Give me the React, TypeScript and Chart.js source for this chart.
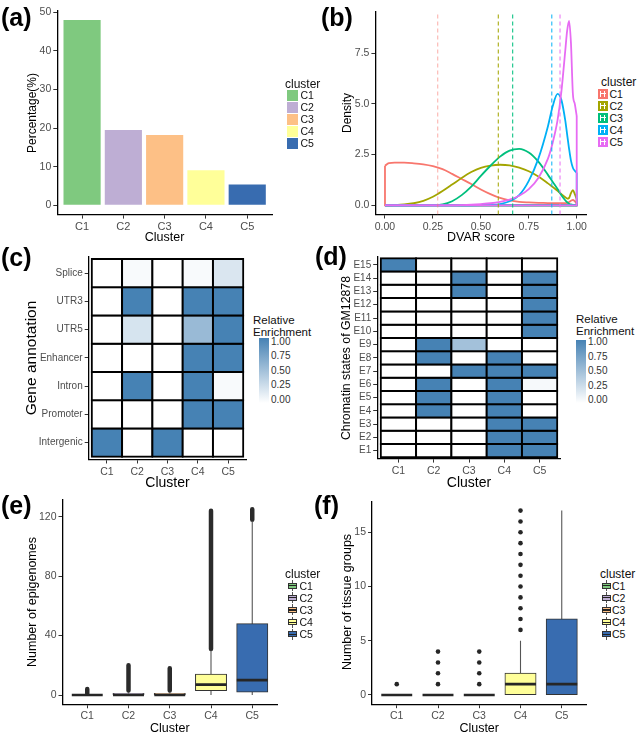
import React, { useEffect, useRef } from 'react';
import { Chart, registerables } from 'chart.js';

Chart.register(...registerables);

const FONT = '"Liberation Sans", Arial, Helvetica, sans-serif';
const TICK_COLOR = '#4D4D4D';

// ---------------- shared ----------------
const clusters = ['C1', 'C2', 'C3', 'C4', 'C5'];
const clusterPositions = [1, 2, 3, 4, 5];
const accentColors = ['#7FC97F', '#BEAED4', '#FDC086', '#FFFF99', '#386CB0'];
const hueColors = ['#F8766D', '#A3A500', '#00BF7D', '#00B0F6', '#E76BF3'];
const vlineColors = ['rgba(248,118,109,0.55)', 'rgba(163,165,0,0.95)', 'rgba(0,191,125,0.95)', 'rgba(0,176,246,0.9)', 'rgba(231,107,243,0.9)'];

// ---------------- (a) ----------------
const percentage = [48.0, 19.5, 18.2, 9.1, 5.4];
const percentageTicks = [0, 10, 20, 30, 40, 50];
const percentageTickLabels = ['0', '10', '20', '30', '40', '50'];

// ---------------- (b) ----------------
const dvarGrid = [0, 0.02, 0.05, 0.1, 0.15, 0.2, 0.25, 0.3, 0.35, 0.4, 0.45, 0.5, 0.55, 0.6, 0.65, 0.7, 0.75, 0.8, 0.85, 0.875, 0.9, 0.92, 0.94, 0.95, 0.96, 0.97, 0.98, 0.99, 1.0];
const densityC1 = [1.95, 2.08, 2.1, 2.1, 2.07, 2.02, 1.93, 1.78, 1.55, 1.3, 1.05, 0.78, 0.55, 0.36, 0.24, 0.17, 0.14, 0.12, 0.11, 0.1, 0.1, 0.1, 0.1, 0.12, 0.16, 0.22, 0.26, 0.2, 0.1];
const densityC2 = [0, 0, 0.01, 0.04, 0.1, 0.22, 0.42, 0.7, 1.02, 1.35, 1.64, 1.85, 1.96, 2.0, 1.97, 1.86, 1.68, 1.42, 1.08, 0.9, 0.72, 0.55, 0.4, 0.33, 0.36, 0.6, 0.75, 0.55, 0.3];
const densityC3 = [0, 0, 0, 0, 0, 0, 0.005, 0.04, 0.2, 0.5, 0.92, 1.45, 1.95, 2.4, 2.7, 2.78, 2.6, 2.15, 1.5, 1.15, 0.8, 0.5, 0.25, 0.15, 0.08, 0.04, 0.02, 0.01, 0];
const densityC4 = [0, 0, 0, 0, 0, 0, 0, 0, 0, 0, 0, 0.005, 0.02, 0.06, 0.2, 0.5, 1.2, 2.3, 3.9, 4.9, 5.5, 5.2, 4.2, 3.5, 2.8, 2.2, 1.85, 1.7, 1.6];
const densityC5 = [0, 0, 0, 0, 0, 0, 0, 0, 0, 0.01, 0.03, 0.06, 0.1, 0.17, 0.28, 0.47, 0.8, 1.35, 2.3, 3.1, 4.2, 5.6, 7.6, 8.6, 9.1, 8.0, 5.5, 5.0, 4.4];
const densitySeries = [densityC1, densityC2, densityC3, densityC4, densityC5];
const dvarMeans = [0.275, 0.591, 0.666, 0.87, 0.913];
const dvarTicks = [0, 0.25, 0.5, 0.75, 1];
const dvarTickLabels = ['0.00', '0.25', '0.50', '0.75', '1.00'];
const densityTicks = [0, 2.5, 5, 7.5];
const densityTickLabels = ['0.0', '2.5', '5.0', '7.5'];

// ---------------- (c) ----------------
const geneAnnotations = ['Intergenic', 'Promoter', 'Intron', 'Enhancer', 'UTR5', 'UTR3', 'Splice'];
const geneEnrichment = [
  [1, 0, 1, 0, 0],
  [0, 0, 0, 1, 1],
  [0, 1, 0, 1, 0.04],
  [0, 0, 0, 1, 1],
  [0, 0.22, 0, 0.55, 1],
  [0, 1, 0, 1, 1],
  [0, 0.04, 0, 0.04, 0.2],
];

// ---------------- (d) ----------------
const chromStates = ['E1', 'E2', 'E3', 'E4', 'E5', 'E6', 'E7', 'E8', 'E9', 'E10', 'E11', 'E12', 'E13', 'E14', 'E15'];
const chromEnrichment = [
  [0, 0, 0, 1, 1],
  [0, 0, 0, 1, 1],
  [0, 0, 0, 1, 1],
  [0, 1, 0, 1, 0],
  [0, 1, 0, 1, 0],
  [0, 1, 0, 1, 0.05],
  [0, 0, 1, 1, 1],
  [0, 1, 0, 1, 0],
  [0, 1, 0.5, 0, 0],
  [0, 0, 0, 0, 1],
  [0, 0, 0, 0, 1],
  [0, 0, 0, 0, 1],
  [0, 0, 1, 0, 1],
  [0, 0, 1, 0, 1],
  [1, 0, 0, 0, 0],
];
const enrichmentLegendLabels = ['1.00', '0.75', '0.50', '0.25', '0.00'];

// ---------------- (e) ----------------
const epigenomeQ1 = [0, 0, 0, 3, 2];
const epigenomeMedian = [0, 0, 0, 7, 10];
const epigenomeQ3 = [0, 1, 1, 14, 48];
const epigenomeWhiskerLow = [0, 0, 0, 0, 0];
const epigenomeWhiskerHigh = [0, 2, 2, 30, 117];
const epigenomeOutlierLow = [1, 3, 3, 31, 118];
const epigenomeOutlierHigh = [4, 20, 18, 124, 125];
const epigenomeTicks = [0, 40, 80, 120];
const epigenomeTickLabels = ['0', '40', '80', '120'];

// ---------------- (f) ----------------
const tissueQ1 = [0, 0, 0, 0, 0];
const tissueMedian = [0, 0, 0, 1, 1];
const tissueQ3 = [0, 0, 0, 2, 7];
const tissueWhiskerLow = [0, 0, 0, 0, 0];
const tissueWhiskerHigh = [0, 0, 0, 5, 17];
const tissueOutliersC1 = [1];
const tissueOutliersC2 = [1, 2, 3, 4];
const tissueOutliersC3 = [1, 2, 3, 4];
const tissueOutliersC4 = [6, 7, 8, 9, 10, 11, 12, 13, 14, 15, 16, 17];
const tissueOutliersC5: number[] = [];
const tissueOutliers = [tissueOutliersC1, tissueOutliersC2, tissueOutliersC3, tissueOutliersC4, tissueOutliersC5];
const tissueTicks = [0, 5, 10, 15];
const tissueTickLabels = ['0', '5', '10', '15'];

// ---------------- helpers ----------------
type Rect = { left: number; top: number; width: number; height: number };
type Plot = { l: number; t: number; r: number; b: number };

function enrichColor(v: number) {
  const lo = [255, 255, 255];
  const hi = [70, 130, 180];
  return `rgb(${lo.map((l, k) => Math.round(l + (hi[k] - l) * v)).join(',')})`;
}

function linAxis(min: number, max: number, ticks: number[], labels: string[], fontSize: number, fit: (s: any) => void) {
  return {
    type: 'linear',
    min,
    max,
    offset: false,
    afterBuildTicks: (s: any) => {
      s.ticks = ticks.map((v) => ({ value: v }));
    },
    afterFit: fit,
    ticks: {
      autoSkip: false,
      maxRotation: 0,
      minRotation: 0,
      padding: 2,
      color: TICK_COLOR,
      font: { family: FONT, size: fontSize },
      callback: (_v: any, i: number) => labels[i],
    },
    grid: {
      display: true,
      drawOnChartArea: false,
      drawTicks: true,
      tickLength: 4,
      tickWidth: 1,
      tickColor: '#333',
      color: '#333',
      lineWidth: 1,
      offset: false,
    },
    border: { display: true, color: '#000', width: 1.3 },
  };
}

function makeOptions(
  box: Rect,
  plot: Plot,
  x: { min: number; max: number; ticks: number[]; labels: string[]; size: number },
  y: { min: number; max: number; ticks: number[]; labels: string[]; size: number }
) {
  return {
    responsive: false,
    animation: false,
    events: [],
    layout: {
      autoPadding: false,
      padding: { left: 0, top: plot.t - box.top, right: box.left + box.width - plot.r, bottom: 0 },
    },
    plugins: { legend: { display: false }, tooltip: { enabled: false }, title: { display: false } },
    scales: {
      x: linAxis(x.min, x.max, x.ticks, x.labels, x.size, (s: any) => {
        s.height = box.top + box.height - plot.b;
      }),
      y: linAxis(y.min, y.max, y.ticks, y.labels, y.size, (s: any) => {
        s.width = plot.l - box.left;
      }),
    },
  };
}

function ChartBox({ box, build }: { box: Rect; build: () => any }) {
  const ref = useRef<HTMLCanvasElement | null>(null);
  useEffect(() => {
    const chart = new Chart(ref.current as HTMLCanvasElement, build());
    return () => chart.destroy();
  }, []);
  return (
    <canvas
      ref={ref}
      width={box.width}
      height={box.height}
      style={{ position: 'absolute', left: box.left, top: box.top, width: box.width, height: box.height }}
    />
  );
}

function Txt({ x, y, children, size = 12, weight = 400, color = '#000', anchor = 'middle', rotate = false }: any) {
  const tx = anchor === 'middle' ? '-50%' : anchor === 'end' ? '-100%' : '0';
  return (
    <div
      style={{
        position: 'absolute',
        left: x,
        top: y,
        transform: `translate(${tx},-50%)${rotate ? ' rotate(-90deg)' : ''}`,
        fontSize: size,
        fontWeight: weight,
        color,
        whiteSpace: 'nowrap',
        lineHeight: 1,
        fontFamily: FONT,
      }}
    >
      {children}
    </div>
  );
}

// ---------------- chart builders ----------------
const boxA: Rect = { left: 0, top: 0, width: 280, height: 240 };
const plotA: Plot = { l: 57.3, r: 272, t: 10.8, b: 214.6 };
const boxB: Rect = { left: 320, top: 0, width: 275, height: 240 };
const plotB: Plot = { l: 375.4, r: 586.3, t: 11.6, b: 214.5 };
const boxC: Rect = { left: 0, top: 240, width: 252, height: 250 };
const plotC: Plot = { l: 88.7, r: 246.3, t: 256.2, b: 459.5 };
const boxD: Rect = { left: 320, top: 240, width: 250, height: 250 };
const plotD: Plot = { l: 377.2, r: 560.8, t: 257, b: 458.6 };
const boxE: Rect = { left: 0, top: 490, width: 282, height: 248 };
const plotE: Plot = { l: 62.5, r: 277, t: 500, b: 704.3 };
const boxF: Rect = { left: 320, top: 490, width: 275, height: 248 };
const plotF: Plot = { l: 372, r: 586.5, t: 501.4, b: 704.2 };

const clusterAxis = (size: number) => ({ min: 0.4, max: 5.6, ticks: clusterPositions, labels: clusters, size });

function buildA() {
  return {
    type: 'bar',
    data: {
      datasets: [
        {
          data: clusterPositions.map((x, i) => ({ x, y: percentage[i] })),
          backgroundColor: accentColors,
          borderWidth: 0,
          barPercentage: 0.9,
          categoryPercentage: 1,
        },
      ],
    },
    options: makeOptions(boxA, plotA, clusterAxis(11), {
      min: -2.4,
      max: 50.4,
      ticks: percentageTicks,
      labels: percentageTickLabels,
      size: 10.5,
    }),
  };
}

function buildB() {
  const ds: any[] = [];
  const last = dvarGrid.length - 1;
  densitySeries.forEach((ys, i) => {
    ds.push({
      type: 'line',
      data: dvarGrid.map((x, k) => ({ x, y: ys[k] })),
      borderColor: hueColors[i],
      borderWidth: 1.8,
      pointRadius: 0,
      cubicInterpolationMode: 'monotone',
      fill: false,
      order: 10 - 2 * i,
    });
    ds.push({
      type: 'line',
      data: [
        { x: dvarGrid[0], y: ys[0] },
        { x: dvarGrid[0], y: 0 },
        { x: dvarGrid[last], y: 0 },
        { x: dvarGrid[last], y: ys[last] },
      ],
      borderColor: hueColors[i],
      borderWidth: 1.8,
      pointRadius: 0,
      tension: 0,
      fill: false,
      order: 10 - 2 * i,
    });
  });
  dvarMeans.forEach((m, i) => {
    ds.push({
      type: 'line',
      data: [
        { x: m, y: -0.455 },
        { x: m, y: 9.555 },
      ],
      borderColor: vlineColors[i],
      borderWidth: 1.1,
      borderDash: [4, 3],
      pointRadius: 0,
      fill: false,
      order: 0,
    });
  });
  return {
    type: 'line',
    data: { datasets: ds },
    options: makeOptions(
      boxB,
      plotB,
      { min: -0.05, max: 1.05, ticks: dvarTicks, labels: dvarTickLabels, size: 10.5 },
      { min: -0.455, max: 9.555, ticks: densityTicks, labels: densityTickLabels, size: 10.5 }
    ),
  };
}

function heatmapBuilder(box: Rect, plot: Plot, rows: string[], matrix: number[][], xSize: number, ySize: number) {
  return () => {
    const data: any[] = [];
    const colors: string[] = [];
    matrix.forEach((row, r) => {
      row.forEach((v, c) => {
        data.push({ x: clusterPositions[c], y: [r + 0.5, r + 1.5] });
        colors.push(enrichColor(v));
      });
    });
    const rowPos = rows.map((_, i) => i + 1);
    return {
      type: 'bar',
      data: {
        datasets: [
          {
            data,
            backgroundColor: colors,
            borderColor: '#000',
            borderWidth: 2,
            inflateAmount: 1,
            borderSkipped: false,
            barPercentage: 1,
            categoryPercentage: 1,
            grouped: false,
          },
        ],
      },
      options: makeOptions(box, plot, clusterAxis(xSize), {
        min: 0.4,
        max: rows.length + 0.6,
        ticks: rowPos,
        labels: rows,
        size: ySize,
      }),
    };
  };
}

function boxplotBuilder(
  box: Rect,
  plot: Plot,
  q1: number[],
  med: number[],
  q3: number[],
  wl: number[],
  wh: number[],
  outlierSets: any[],
  y: { min: number; max: number; ticks: number[]; labels: string[] }
) {
  return () => {
    const ds: any[] = [
      {
        type: 'line',
        data: clusterPositions.flatMap((x, i) => [
          { x: x - 0.375, y: med[i] },
          { x: x + 0.375, y: med[i] },
          { x, y: null },
        ]),
        borderColor: '#262626',
        borderWidth: 2.6,
        pointRadius: 0,
        spanGaps: false,
        fill: false,
        order: 0,
      },
      {
        type: 'bar',
        data: clusterPositions.map((x, i) => ({ x, y: [q1[i], q3[i]] })),
        backgroundColor: accentColors,
        borderColor: '#333',
        borderWidth: 1,
        inflateAmount: 0.5,
        borderSkipped: false,
        barPercentage: 0.75,
        categoryPercentage: 1,
        order: 1,
      },
      {
        type: 'line',
        data: clusterPositions.flatMap((x, i) => [
          { x, y: wl[i] },
          { x, y: wh[i] },
          { x, y: null },
        ]),
        borderColor: '#555',
        borderWidth: 1.1,
        pointRadius: 0,
        spanGaps: false,
        fill: false,
        order: 2,
      },
      ...outlierSets.map((o) => ({ ...o, order: 3 })),
    ];
    return {
      type: 'bar',
      data: { datasets: ds },
      options: makeOptions(box, plot, clusterAxis(10.5), { ...y, size: 10.5 }),
    };
  };
}

const buildE = boxplotBuilder(
  boxE,
  plotE,
  epigenomeQ1,
  epigenomeMedian,
  epigenomeQ3,
  epigenomeWhiskerLow,
  epigenomeWhiskerHigh,
  [
    {
      type: 'line',
      data: clusterPositions.flatMap((x, i) => [
        { x, y: epigenomeOutlierLow[i] },
        { x, y: epigenomeOutlierHigh[i] },
        { x, y: null },
      ]),
      borderColor: '#2b2b2b',
      borderWidth: 4.5,
      borderCapStyle: 'round',
      pointRadius: 0,
      spanGaps: false,
      fill: false,
    },
  ],
  { min: -6.25, max: 131.25, ticks: epigenomeTicks, labels: epigenomeTickLabels }
);

const buildF = boxplotBuilder(
  boxF,
  plotF,
  tissueQ1,
  tissueMedian,
  tissueQ3,
  tissueWhiskerLow,
  tissueWhiskerHigh,
  [
    {
      type: 'line',
      showLine: false,
      data: tissueOutliers.flatMap((vals, i) => vals.map((v) => ({ x: clusterPositions[i], y: v }))),
      pointRadius: 2.3,
      pointBackgroundColor: '#262626',
      pointBorderWidth: 0,
      borderColor: '#262626',
    },
  ],
  { min: -0.85, max: 17.85, ticks: tissueTicks, labels: tissueTickLabels }
);

const buildC = heatmapBuilder(boxC, plotC, geneAnnotations, geneEnrichment, 10.5, 10);
const buildD = heatmapBuilder(boxD, plotD, chromStates, chromEnrichment, 10.5, 10);

// ---------------- legends ----------------
function FillLegend({ x, titleY, keyX, keyTop, labelX }: any) {
  return (
    <>
      <Txt x={x} y={titleY} anchor="start" size={12} color="#111">cluster</Txt>
      {clusters.map((c, i) => (
        <React.Fragment key={c}>
          <div style={{ position: 'absolute', left: keyX, top: keyTop + i * 12, width: 11, height: 11, background: accentColors[i] }} />
          <Txt x={labelX} y={keyTop + i * 12 + 5.5} anchor="start" size={10.5} color="#111">{c}</Txt>
        </React.Fragment>
      ))}
    </>
  );
}

function LineLegend({ x, titleY, keyX, keyTop, labelX }: any) {
  return (
    <>
      <Txt x={x} y={titleY} anchor="start" size={12} color="#111">cluster</Txt>
      {clusters.map((c, i) => {
        const t = keyTop + i * 12;
        return (
          <React.Fragment key={c}>
            <div style={{ position: 'absolute', left: keyX, top: t, width: 10, height: 10, background: hueColors[i] }} />
            <div style={{ position: 'absolute', left: keyX + 2, top: t + 2, width: 1.8, height: 6, background: '#fff' }} />
            <div style={{ position: 'absolute', left: keyX + 6.2, top: t + 2, width: 1.8, height: 6, background: '#fff' }} />
            <div style={{ position: 'absolute', left: keyX + 2, top: t + 4.2, width: 6, height: 1.6, background: '#fff' }} />
            <Txt x={labelX} y={t + 5} anchor="start" size={10.5} color="#111">{c}</Txt>
          </React.Fragment>
        );
      })}
    </>
  );
}

function BoxLegend({ x, titleY, keyX, keyTop, labelX }: any) {
  return (
    <>
      <Txt x={x} y={titleY} anchor="start" size={12} color="#111">cluster</Txt>
      {clusters.map((c, i) => {
        const t = keyTop + i * 12.2;
        return (
          <React.Fragment key={c}>
            <div style={{ position: 'absolute', left: keyX + 4.5, top: t, width: 1, height: 11, background: '#555' }} />
            <div
              style={{
                position: 'absolute',
                left: keyX + 1,
                top: t + 2.5,
                width: 9,
                height: 6,
                background: accentColors[i],
                border: '1px solid #333',
                boxSizing: 'border-box',
              }}
            />
            <div style={{ position: 'absolute', left: keyX + 1, top: t + 4.9, width: 9, height: 1.3, background: '#222' }} />
            <Txt x={labelX} y={t + 5.5} anchor="start" size={10.5} color="#111">{c}</Txt>
          </React.Fragment>
        );
      })}
    </>
  );
}

function ColorLegend({ x, title1Y, barX, barTop, barBottom, labelX, labelTop, labelBottom }: any) {
  return (
    <>
      <Txt x={x} y={title1Y} anchor="start" size={11.5} color="#111">Relative</Txt>
      <Txt x={x} y={title1Y + 11.5} anchor="start" size={11.5} color="#111">Enrichment</Txt>
      <div
        style={{
          position: 'absolute',
          left: barX,
          top: barTop,
          width: 10,
          height: barBottom - barTop,
          background: 'linear-gradient(to top, #ffffff, #4682B4)',
        }}
      />
      {enrichmentLegendLabels.map((l, i) => (
        <Txt key={l} x={labelX} y={labelTop + ((labelBottom - labelTop) * i) / 4} anchor="start" size={10} color="#333">
          {l}
        </Txt>
      ))}
    </>
  );
}

export default function App() {
  return (
    <div
      style={{
        position: 'absolute',
        left: 0,
        top: 0,
        width: 643,
        height: 738,
        background: '#fff',
        overflow: 'hidden',
        fontFamily: FONT,
      }}
    >
      <ChartBox box={boxA} build={buildA} />
      <ChartBox box={boxB} build={buildB} />
      <ChartBox box={boxC} build={buildC} />
      <ChartBox box={boxD} build={buildD} />
      <ChartBox box={boxE} build={buildE} />
      <ChartBox box={boxF} build={buildF} />

      {/* panel letters */}
      <Txt x={1} y={17} anchor="start" size={25} weight={700}>(a)</Txt>
      <Txt x={321} y={17} anchor="start" size={25} weight={700}>(b)</Txt>
      <Txt x={1} y={257} anchor="start" size={25} weight={700}>(c)</Txt>
      <Txt x={315} y={256} anchor="start" size={25} weight={700}>(d)</Txt>
      <Txt x={1} y={505} anchor="start" size={25} weight={700}>(e)</Txt>
      <Txt x={314} y={505} anchor="start" size={25} weight={700}>(f)</Txt>

      {/* axis titles */}
      <Txt x={164.6} y={237} size={12.5}>Cluster</Txt>
      <Txt x={32} y={113} size={12}>{''}</Txt>
      <Txt x={32} y={113} size={12} rotate>Percentage(%)</Txt>
      <Txt x={481} y={237} size={12.5}>DVAR score</Txt>
      <Txt x={346.5} y={113} size={12} rotate>Density</Txt>
      <Txt x={167.5} y={481.5} size={14}>Cluster</Txt>
      <Txt x={31} y={358} size={15.5} rotate>Gene annotation</Txt>
      <Txt x={469} y={481.5} size={14}>Cluster</Txt>
      <Txt x={346} y={358} size={12.3} rotate>Chromatin states of GM12878</Txt>
      <Txt x={169.8} y={728} size={12.5}>Cluster</Txt>
      <Txt x={31.5} y={602} size={12.5} rotate>Number of epigenomes</Txt>
      <Txt x={479.2} y={727.5} size={12.5}>Cluster</Txt>
      <Txt x={346.5} y={602} size={12.5} rotate>Number of tissue groups</Txt>

      {/* legends */}
      <FillLegend x={285} titleY={83.5} keyX={287} keyTop={89.5} labelX={300.5} />
      <LineLegend x={601} titleY={82} keyX={597.5} keyTop={88.5} labelX={609.5} />
      <ColorLegend x={253} title1Y={321} barX={259} barTop={338} barBottom={403} labelX={271} labelTop={341.5} labelBottom={399.5} />
      <ColorLegend x={576} title1Y={320} barX={576} barTop={340} barBottom={403} labelX={588} labelTop={342} labelBottom={400} />
      <BoxLegend x={285} titleY={574} keyX={287} keyTop={580} labelX={299.5} />
      <BoxLegend x={600} titleY={574} keyX={601} keyTop={580} labelX={612} />
    </div>
  );
}
